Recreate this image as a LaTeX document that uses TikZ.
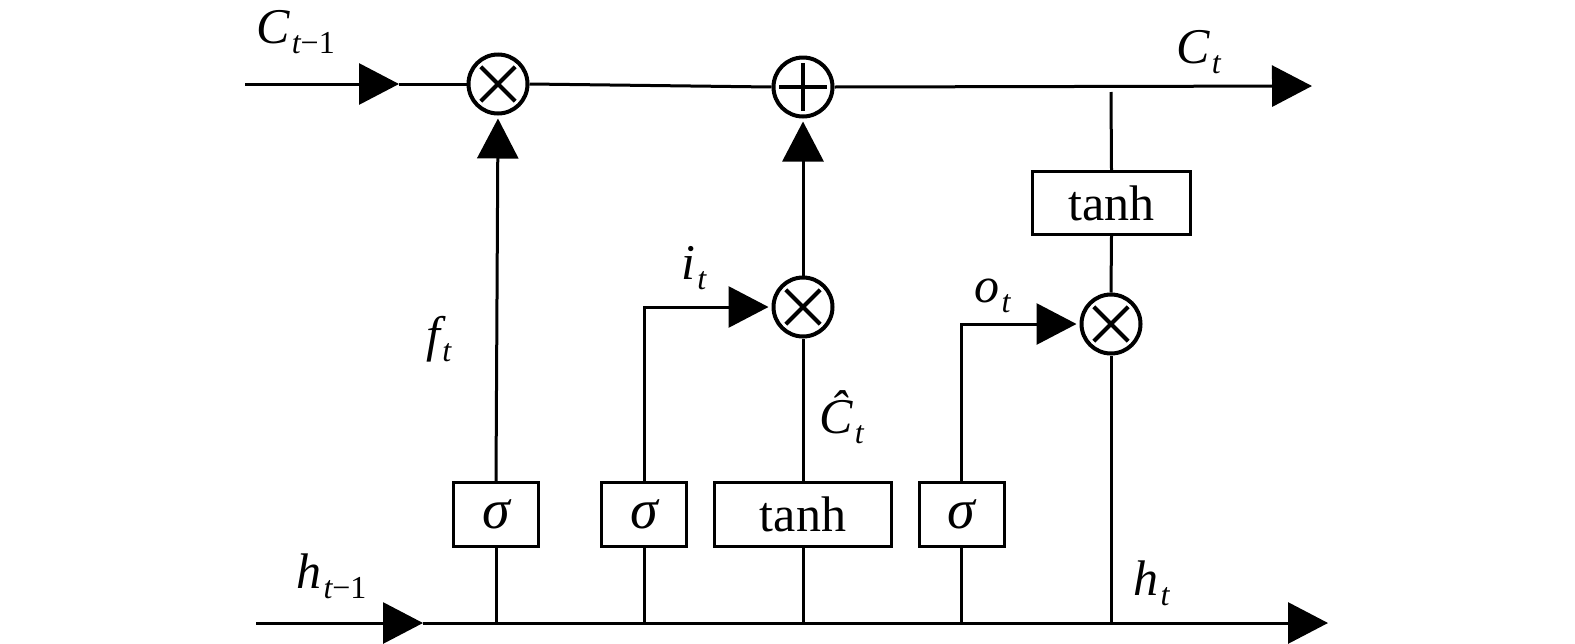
\documentclass[tikz,border=0pt]{standalone}
\usepackage{fontspec}
\setmainfont{Liberation Serif}
\usetikzlibrary{arrows.meta}
\newcommand{\mlab}[2]{{\fontsize{25}{25}\selectfont\itshape #1}\hspace{1pt}\raisebox{-5pt}{\fontsize{16}{16}\selectfont #2}}
\newcommand{\sig}{{\fontsize{28}{28}\selectfont\itshape σ}}
\begin{document}
\begin{tikzpicture}[x=0.5pt,y=-0.5pt, line width=1.5pt,
  tip/.style={-{Triangle[length=20pt,width=20.5pt]}},
  box/.style={draw, line width=1.5pt, minimum width=42.5pt, minimum height=32pt, inner sep=0pt, font=\fontsize{25}{25}\selectfont},
  wbox/.style={box, minimum width=88.5pt},
  tbox/.style={box, minimum width=79pt, minimum height=31.5pt},
  op/.style={circle, draw, line width=2pt, minimum size=29.5pt, inner sep=0pt},
  mul/.style={op, path picture={
     \draw[line width=2pt] ([shift={(-8.6pt,-8.6pt)}]path picture bounding box.center) -- ([shift={(8.6pt,8.6pt)}]path picture bounding box.center);
     \draw[line width=2pt] ([shift={(-8.6pt,8.6pt)}]path picture bounding box.center) -- ([shift={(8.6pt,-8.6pt)}]path picture bounding box.center);}},
  add/.style={op, path picture={
     \draw[line width=2pt] ([xshift=-12pt]path picture bounding box.center) -- ([xshift=12pt]path picture bounding box.center);
     \draw[line width=2pt] ([yshift=-12pt]path picture bounding box.center) -- ([yshift=12pt]path picture bounding box.center);}},
  lab/.style={inner sep=0pt, anchor=base west}
]
\useasboundingbox (0,0) rectangle (1575,643);

% nodes
\node[mul] (m1) at (498,84) {};
\node[add] (pl) at (803,87) {};
\node[mul] (m2) at (803,307) {};
\node[mul] (m3) at (1111,324) {};
\node[box] (s1) at (496,514.5) {\sig};
\node[box] (s2) at (644,514.5) {\sig};
\node[wbox] (th1) at (803,514.5) {tanh};
\node[box] (s3) at (961.5,514.5) {\sig};
\node[tbox] (th2) at (1111.5,203) {tanh};

\coordinate (cin) at (245,84);
\coordinate (cmid) at (399,84);
\coordinate (cout) at (1312,86);
\coordinate (ctap) at (1111,92);
\coordinate (hin) at (256,623);
\coordinate (hmid) at (423,623);
\coordinate (hout) at (1328,623);

% cell state line
\draw[tip] (cin) -- (cmid);
\draw (cmid) -- (m1.west);
\draw (m1.east) -- (pl.west);
\draw[tip] (pl.east) -- (cout);

% hidden line
\draw[tip] (hin) -- (hmid);
\draw[tip] (hmid) -- (hout);

% forget gate
\draw (s1.south) -- (s1.south |- hin);
\draw[tip, shorten >=1.5pt] (s1.north) -- (m1.south);

% input gate
\draw (s2.south) -- (s2.south |- hin);
\draw[tip, shorten >=1.5pt] (s2.north) |- (m2.west);

% candidate
\draw (th1.south) -- (th1.south |- hin);
\draw (th1.north) -- (m2.south);
\draw[tip, shorten >=1.5pt] (m2.north) -- (pl.south);

% output gate
\draw (s3.south) -- (s3.south |- hin);
\draw[tip, shorten >=1.5pt] (s3.north) |- (m3.west);

% output
\draw (ctap) -- (th2.north);
\draw (th2.south) -- (m3.north);
\draw (m3.south) -- (m3.south |- hin);

% labels
\node[lab] (lc0) at (255,43) {\mlab{C}{\itshape t\upshape −1}};
\node[lab] (lc1) at (1175,63) {\mlab{C}{\itshape t}};
\node[lab] (lf) at (425,351) {\mlab{f}{\itshape t}};
\node[lab] (li) at (680,279) {\mlab{i}{\itshape t}};
\node[lab] (lo) at (973,302) {\mlab{o}{\itshape t}};
\node[lab] (lch) at (818,433) {\mlab{Ĉ}{\itshape t}};
\node[lab] (lh0) at (295,588) {\mlab{h}{\itshape t\upshape −1}};
\node[lab] (lh1) at (1132,595) {\mlab{h}{\itshape t}};
\end{tikzpicture}
\end{document}
